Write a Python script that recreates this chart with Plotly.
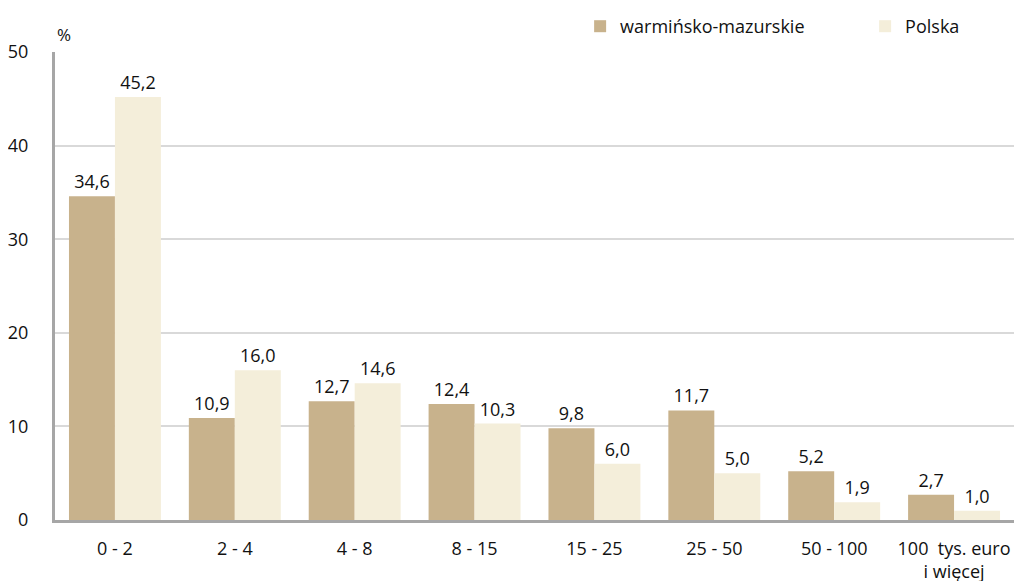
import plotly.graph_objects as go

categories = ["0 - 2", "2 - 4", "4 - 8", "8 - 15", "15 - 25", "25 - 50", "50 - 100", "100  tys. euro<br>i więcej"]
warm_maz = [34.6, 10.9, 12.7, 12.4, 9.8, 11.7, 5.2, 2.7]
polska = [45.2, 16.0, 14.6, 10.3, 6.0, 5.0, 1.9, 1.0]
y_ticks = [0, 10, 20, 30, 40, 50]

def fmt(v):
    return f"{v:.1f}".replace(".", ",")

FONT = "Open Sans, Liberation Sans, sans-serif"

fig = go.Figure()
fig.add_trace(go.Bar(
    x=categories, y=warm_maz, name="warmińsko-mazurskie",
    marker=dict(color="#C8B28C", line=dict(width=0)),
    text=[fmt(v) for v in warm_maz], textposition="outside",
    textfont=dict(size=18, color="#111111", family=FONT), cliponaxis=False,
))
fig.add_trace(go.Bar(
    x=categories, y=polska, name="Polska",
    marker=dict(color="#F4EEDA", line=dict(width=0)),
    text=[fmt(v) for v in polska], textposition="outside",
    textfont=dict(size=18, color="#111111", family=FONT), cliponaxis=False,
))

fig.update_layout(
    width=1029, height=581,
    paper_bgcolor="white", plot_bgcolor="white",
    barmode="group", bargap=0.233, bargroupgap=0,
    margin=dict(l=47, r=23, t=44, b=69, autoexpand=False),
    font=dict(family=FONT, size=18, color="#111111"),
    legend=dict(orientation="h", x=0.556, y=1.0, xref="container", yref="container",
                xanchor="left", yanchor="top",
                font=dict(size=18), traceorder="normal",
                entrywidth=240, entrywidthmode="pixels",
                bgcolor="rgba(0,0,0,0)", itemsizing="constant"),
    xaxis=dict(showline=True, linecolor="#A6A6A6", linewidth=3, ticks="",
               tickfont=dict(size=18), showgrid=False, automargin=False,
               ticklabelstandoff=10),
    yaxis=dict(range=[0, 50], tickvals=y_ticks, showgrid=True, gridcolor="#D9D9D9",
               gridwidth=1.5, showline=True, linecolor="#A6A6A6", linewidth=3,
               ticks="", tickfont=dict(size=18), zeroline=False, ticklabelstandoff=20,
               automargin=False),
    annotations=[dict(text="%", x=0, xref="paper", y=1.0, yref="paper", xanchor="left",
                      yanchor="bottom", xshift=0, yshift=4, showarrow=False,
                      font=dict(size=17, family=FONT))],
)

fig.write_html("out.html")
